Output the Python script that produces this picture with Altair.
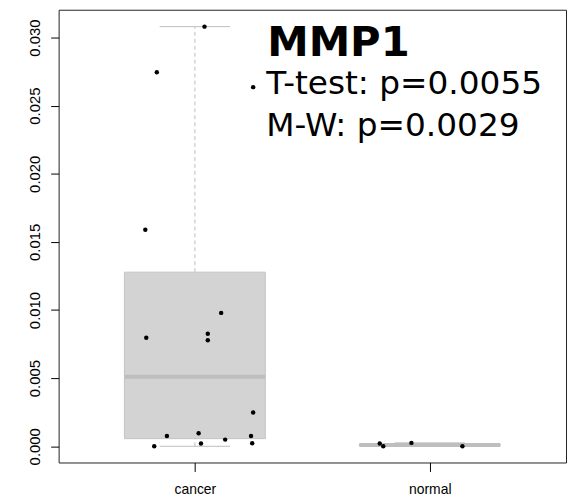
import altair as alt
import pandas as pd

# ---- data ----
groups = ["cancer", "normal"]
group_pos = [1, 2]

# box statistics (q1, median, q3, whisker low, whisker high)
box_q1 = [0.00056, 0.00005]
box_med = [0.0051, 0.0001]
box_q3 = [0.01278, 0.00015]
box_lo = [0.0, 0.0]
box_hi = [0.0308, 0.00025]

# jittered points: x position (group coordinate) and value
cancer_x = [1.041, 0.838, 0.789, 0.793, 1.112, 1.055, 1.055, 1.248, 0.881,
            1.016, 1.026, 1.129, 1.239, 1.244, 0.827, 1.248]
cancer_y = [0.0308, 0.02745, 0.01589, 0.00797, 0.00979, 0.00826, 0.00778,
            0.00248, 0.00076, 0.00095, 0.0002, 0.00049, 0.00076, 0.00022,
            0.0, 0.02636]
normal_x = [1.787, 1.802, 1.922, 2.139]
normal_y = [0.0002, 0.0, 0.00025, 0.0]

y_ticks = [0.0, 0.005, 0.010, 0.015, 0.020, 0.025, 0.030]
title_text = "MMP1"
ttest_text = "T-test: p=0.0055"
mw_text = "M-W: p=0.0029"

boxes = pd.DataFrame({"group": groups, "pos": group_pos, "q1": box_q1,
                      "med": box_med, "q3": box_q3, "lo": box_lo, "hi": box_hi})
points = pd.DataFrame({"x": cancer_x + normal_x, "y": cancer_y + normal_y})
notes = pd.DataFrame({"label": [title_text, ttest_text, mw_text],
                      "row": [0, 1, 2]})

xscale = alt.Scale(domain=[0.42, 2.58], nice=False, zero=False)
yscale = alt.Scale(domain=[-0.00119, 0.03204], nice=False, zero=False)

xaxis = alt.Axis(values=[1, 2], labelExpr="datum.value == 1 ? 'cancer' : 'normal'",
                 title="", grid=False, domain=False, tickSize=9, tickColor="#000",
                 labelFont="Liberation Sans", labelFontSize=14, labelColor="#000",
                 labelBaseline="alphabetic", labelPadding=22)
yaxis = alt.Axis(values=y_ticks, format=".3f", title="", grid=False, domain=False,
                 tickSize=8, tickColor="#000", labelFont="Liberation Sans",
                 labelFontSize=15, labelColor="#000", labelAngle=-90,
                 labelAlign="center", labelBaseline="alphabetic", labelPadding=11)

base = alt.Chart(boxes).transform_calculate(
    left="datum.pos - 0.3", right="datum.pos + 0.3",
    capl="datum.pos - 0.15", capr="datum.pos + 0.15")

whisk_up = base.mark_rule(color="#bdbdbd", strokeDash=[4, 3], strokeWidth=1).encode(
    x=alt.X("pos:Q", scale=xscale, axis=xaxis),
    y=alt.Y("q3:Q", scale=yscale, axis=yaxis), y2="hi:Q")
whisk_dn = base.mark_rule(color="#bdbdbd", strokeDash=[4, 3], strokeWidth=1).encode(
    x=alt.X("pos:Q", scale=xscale, axis=xaxis),
    y=alt.Y("lo:Q", scale=yscale, axis=yaxis), y2="q1:Q")
cap_hi = base.mark_rule(color="#bdbdbd", strokeWidth=1).encode(
    x=alt.X("capl:Q", scale=xscale, axis=xaxis), x2="capr:Q",
    y=alt.Y("hi:Q", scale=yscale, axis=yaxis))
cap_lo = base.mark_rule(color="#bdbdbd", strokeWidth=1).encode(
    x=alt.X("capl:Q", scale=xscale, axis=xaxis), x2="capr:Q",
    y=alt.Y("lo:Q", scale=yscale, axis=yaxis))
box = base.mark_rect(fill="#d3d3d3", stroke="#c4c4c4", strokeWidth=1).encode(
    x=alt.X("left:Q", scale=xscale, axis=xaxis), x2="right:Q",
    y=alt.Y("q1:Q", scale=yscale, axis=yaxis), y2="q3:Q")
median = base.mark_rule(color="#bebebe", strokeWidth=4).encode(
    x=alt.X("left:Q", scale=xscale, axis=xaxis), x2="right:Q",
    y=alt.Y("med:Q", scale=yscale, axis=yaxis))

dots = alt.Chart(points).mark_circle(color="#000", opacity=1, size=20).encode(
    x=alt.X("x:Q", scale=xscale, axis=xaxis),
    y=alt.Y("y:Q", scale=yscale, axis=yaxis))

title_mark = alt.Chart(notes).transform_filter("datum.row == 0").mark_text(
    font="DejaVu Sans", fontWeight="bold", fontSize=42, align="left",
    baseline="alphabetic", color="#000").encode(
    text="label:N", x=alt.value(210), y=alt.value(47))
t_mark = alt.Chart(notes).transform_filter("datum.row == 1").mark_text(
    font="DejaVu Sans", fontSize=33, align="left", baseline="alphabetic",
    color="#000").encode(text="label:N", x=alt.value(209), y=alt.value(85))
mw_mark = alt.Chart(notes).transform_filter("datum.row == 2").mark_text(
    font="DejaVu Sans", fontSize=33, align="left", baseline="alphabetic",
    color="#000").encode(text="label:N", x=alt.value(209), y=alt.value(127))

chart = alt.layer(whisk_up, whisk_dn, cap_hi, cap_lo, box, median, dots,
                  title_mark, t_mark, mw_mark).properties(
    width=511, height=456, autosize="none",
    padding={"left": 51, "top": 0, "right": 1, "bottom": 34},
    background="white"
).configure_view(stroke="#222", strokeWidth=1)

chart.save("out.html", embed_options={"renderer": "svg", "actions": False})
